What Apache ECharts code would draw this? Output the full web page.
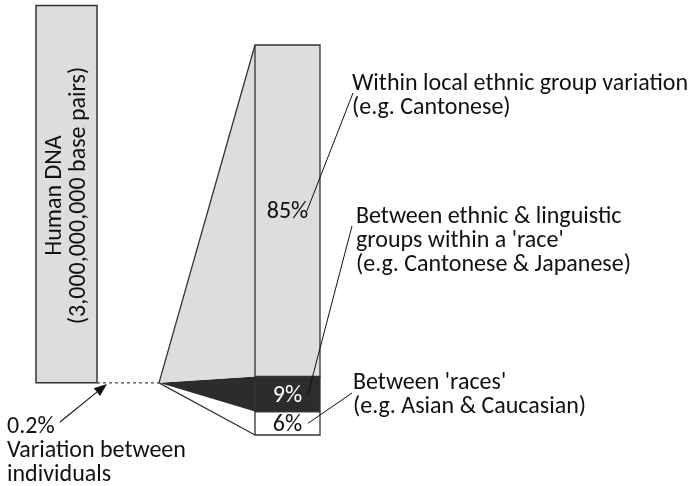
<!DOCTYPE html>
<html><head><meta charset="utf-8">
<script src="https://cdn.jsdelivr.net/npm/echarts@6/dist/echarts.min.js"></script>
<style>html,body{margin:0;padding:0;background:#fff}#c{width:692px;height:486px}</style>
</head><body><div id="c"></div>
<script>
// ---- data (bottom to top of the right-hand bar) ----
const segmentNames = ["Between 'races'", "Between ethnic & linguistic groups", "Within local ethnic group"];
const segmentValues = [6, 9, 85];
const segmentLabels = ['6%', '9%', '85%'];
const dnaLabelLines = ['Human DNA', '(3,000,000,000 base pairs)'];
const individualLabelLines = ['0.2%', 'Variation between', 'individuals'];
const annotationLines = [
  ["Between 'races'", '(e.g. Asian & Caucasian)'],
  ['Between ethnic & linguistic', "groups within a 'race'", '(e.g. Cantonese & Japanese)'],
  ['Within local ethnic group variation', '(e.g. Cantonese)']
];

// ---- styles ----
const FONT = 'Carlito, "Noto Sans", sans-serif';
const segmentFill = ['#ffffff', '#2c2c2c', '#dcdddf'];
const segmentTextColor = ['#111111', '#ffffff', '#111111'];
const strokeColor = '#333333';

// ---- layout ----
const L = {
  barX: [255, 320],
  dnaX: [36, 97],
  dnaY: [13.38, 110.1],
  apexX: 159,
  dnaText: [67, 195.5],
  annot: [
    { textX: 353, textY: 395, from: [352, 393], toX: 308 },
    { textX: 356, textY: 241, from: [352, 226], toX: 308 },
    { textX: 352, textY: 95.7, from: [353, 93], toX: 307 }
  ],
  indivText: [7, 451],
  arrowFrom: [60, 422], arrowTo: [107, 384]
};

// stacked extents built from the values
const stackData = [];
let acc = 0;
segmentValues.forEach((v, i) => { stackData.push({ name: segmentNames[i], value: [acc, acc + v, i] }); acc += v; });
const total = acc;

const chart = echarts.init(document.getElementById('c'), null, { renderer: 'canvas' });

function segRender(params, api) {
  const i = api.value(2);
  const s = api.value(0), e = api.value(1);
  const tl = api.coord([L.barX[0], e]);
  const br = api.coord([L.barX[1], s]);
  const bl = api.coord([L.barX[0], s]);
  const apex = api.coord([L.apexX, L.dnaY[0]]);
  const mid = api.coord([(L.barX[0] + L.barX[1]) / 2, (s + e) / 2]);
  return {
    type: 'group',
    children: [
      { type: 'polygon', shape: { points: [apex, tl, bl] }, style: { fill: segmentFill[i] } },
      { type: 'rect', shape: { x: tl[0], y: tl[1], width: br[0] - tl[0], height: br[1] - tl[1] },
        style: { fill: segmentFill[i], stroke: strokeColor, lineWidth: 1.3 } },
      { type: 'text', x: mid[0], y: mid[1] + 1.5,
        style: { text: segmentLabels[i], fill: segmentTextColor[i], font: '24px ' + FONT, align: 'center', verticalAlign: 'middle' } }
    ]
  };
}

function dnaRender(params, api) {
  const tl = api.coord([L.dnaX[0], L.dnaY[1]]);
  const br = api.coord([L.dnaX[1], L.dnaY[0]]);
  const apex = api.coord([L.apexX, L.dnaY[0]]);
  const barTop = api.coord([L.barX[0], total]);
  const barBot = api.coord([L.barX[0], 0]);
  const a0 = L.arrowFrom, a1 = L.arrowTo;
  const ang = Math.atan2(a1[1] - a0[1], a1[0] - a0[0]);
  const hl = 13, hw = 5;
  const bx = a1[0] - hl * Math.cos(ang), by = a1[1] - hl * Math.sin(ang);
  const head = [a1, [bx + hw * Math.sin(ang), by - hw * Math.cos(ang)], [bx - hw * Math.sin(ang), by + hw * Math.cos(ang)]];
  return {
    type: 'group',
    children: [
      { type: 'rect', shape: { x: tl[0], y: tl[1], width: br[0] - tl[0], height: br[1] - tl[1] },
        style: { fill: '#dcdddf', stroke: strokeColor, lineWidth: 1.5 } },
      { type: 'text', x: L.dnaText[0], y: L.dnaText[1], rotation: Math.PI / 2,
        style: { text: dnaLabelLines.join('\n'), fill: '#111', font: '24px ' + FONT, lineHeight: 24,
                 align: 'center', verticalAlign: 'middle' } },
      { type: 'line', shape: { x1: br[0], y1: br[1], x2: apex[0], y2: apex[1] },
        style: { stroke: '#444', lineWidth: 1.2, lineDash: [3, 3] } },
      { type: 'line', shape: { x1: apex[0], y1: apex[1], x2: barTop[0], y2: barTop[1] },
        style: { stroke: strokeColor, lineWidth: 1.3 } },
      { type: 'line', shape: { x1: apex[0], y1: apex[1], x2: barBot[0], y2: barBot[1] },
        style: { stroke: strokeColor, lineWidth: 1.3 } },
      { type: 'line', shape: { x1: a0[0], y1: a0[1], x2: bx, y2: by },
        style: { stroke: '#111', lineWidth: 1.1 } },
      { type: 'polygon', shape: { points: head }, style: { fill: '#111' } },
      { type: 'text', x: L.indivText[0], y: L.indivText[1],
        style: { text: individualLabelLines.join('\n'), fill: '#111', font: '24px ' + FONT, lineHeight: 24,
                 align: 'left', verticalAlign: 'middle' } }
    ]
  };
}

function annotRender(params, api) {
  const i = api.value(2);
  const s = api.value(0), e = api.value(1);
  const a = L.annot[i];
  const to = api.coord([a.toX, (s + e) / 2]);
  return {
    type: 'group',
    children: [
      { type: 'line', shape: { x1: a.from[0], y1: a.from[1], x2: to[0], y2: to[1] },
        style: { stroke: '#111', lineWidth: 1 } },
      { type: 'text', x: a.textX, y: a.textY,
        style: { text: annotationLines[i].join('\n'), fill: '#111', font: '24px ' + FONT, lineHeight: 23.8,
                 align: 'left', verticalAlign: 'middle' } }
    ]
  };
}

chart.setOption({
  animation: false,
  grid: { left: 0, right: 0, top: 45, bottom: 51 },
  xAxis: { type: 'value', min: 0, max: 692, show: false },
  yAxis: { type: 'value', min: 0, max: 100, show: false },
  series: [
    { type: 'custom', name: 'segments', coordinateSystem: 'cartesian2d', renderItem: segRender,
      data: stackData, encode: { x: -1, y: [0, 1] }, clip: false, silent: true },
    { type: 'custom', name: 'dna', coordinateSystem: 'cartesian2d', renderItem: dnaRender,
      data: [[0, total, 0]], encode: { x: -1, y: [0, 1] }, clip: false, silent: true },
    { type: 'custom', name: 'annotations', coordinateSystem: 'cartesian2d', renderItem: annotRender,
      data: stackData, encode: { x: -1, y: [0, 1] }, clip: false, silent: true }
  ]
});
</script></body></html>
